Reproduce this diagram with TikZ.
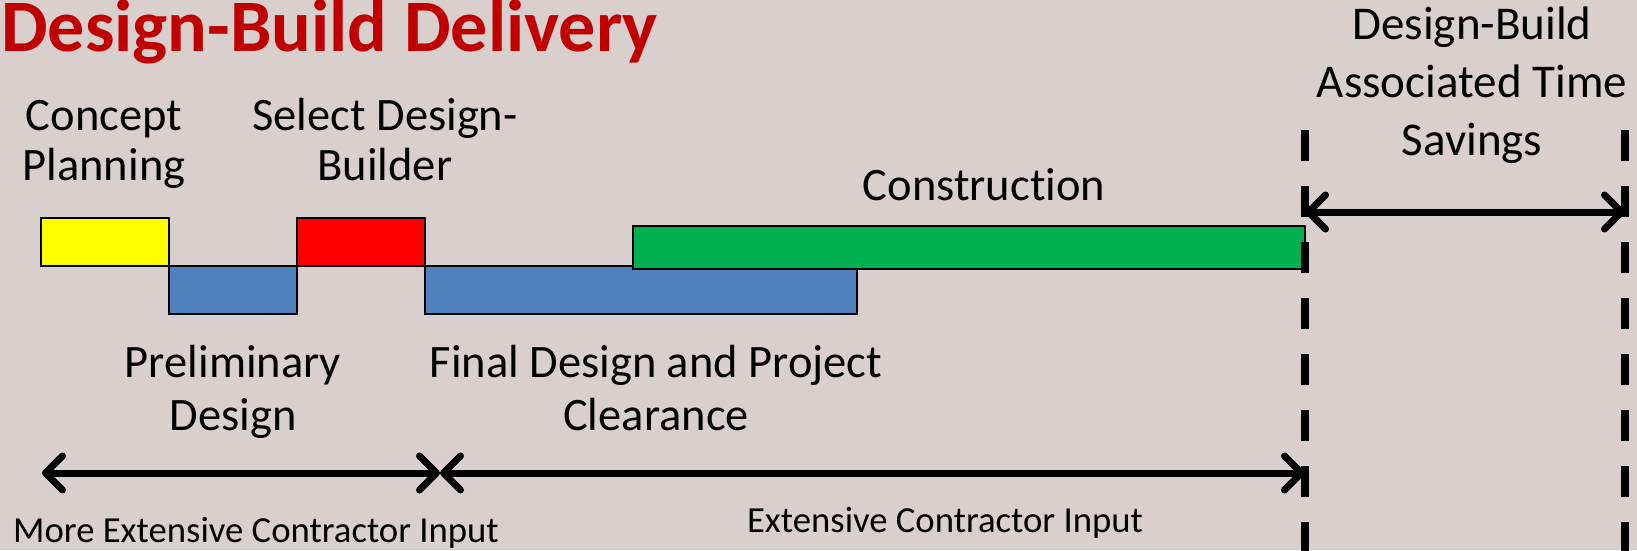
\documentclass[tikz,border=0pt]{standalone}
\usepackage{fontspec}
\setmainfont{Carlito}[Ligatures={NoCommon}]
\usetikzlibrary{arrows.meta}
\definecolor{bgc}{RGB}{217,207,205}
\definecolor{titlered}{RGB}{192,0,0}
\definecolor{cyel}{RGB}{255,255,0}
\definecolor{cblue}{RGB}{79,129,189}
\definecolor{cred}{RGB}{255,0,0}
\definecolor{cgreen}{RGB}{0,176,80}
\tikzset{
  bar/.style={draw=black, line width=2pt, anchor=north west, inner sep=0pt, outer sep=0pt},
  lbl/.style={anchor=base, inner sep=0pt, align=center, font=\fontsize{46.5}{50}\selectfont},
  small/.style={anchor=base, inner sep=0pt, font=\fontsize{36.7}{44}\selectfont},
  span/.style={line width=7pt, {Straight Barb[length=17pt,width=34pt,line cap=round,line join=round]}-{Straight Barb[length=17pt,width=34pt,line cap=round,line join=round]}},
  dline/.style={line width=7.5pt, dash pattern=on 31pt off 25pt}
}
\begin{document}
\begin{tikzpicture}[x=1pt,y=-1pt]
\fill[bgc] (0,0) rectangle (1637,550);
\useasboundingbox (0,0) rectangle (1637,550);
% title
\node[anchor=base west, inner sep=0pt, text height=48pt, text=titlered, font=\fontsize{74}{86}\selectfont\bfseries] (title) at (1,51) {Design-Build Delivery};
% bars
\node[bar, fill=cyel, minimum width=128pt, minimum height=48pt] (cp) at (41,218) {};
\node[bar, fill=cblue, minimum width=128pt, minimum height=48pt] (pd) at (169,266) {};
\node[bar, fill=cred, minimum width=128pt, minimum height=48pt] (sd) at (297,218) {};
\node[bar, fill=cblue, minimum width=432pt, minimum height=48pt] (fd) at (425,266) {};
\node[bar, fill=cgreen, minimum width=672pt, minimum height=43pt] (cn) at (633,226) {};
% labels (anchor=base gives the baseline of the last line)
\node[lbl] (lcp) at (104,180) {Concept\\Planning};
\node[lbl] (lsd) at (385,180) {Select Design-\\Builder};
\node[lbl] (lcn) at (984,200) {Construction};
\node[lbl, font=\fontsize{46.5}{53}\selectfont] (lpd) at (233,430) {Preliminary\\Design};
\node[lbl, font=\fontsize{46.5}{53}\selectfont] (lfd) at (656,430) {Final Design and Project\\Clearance};
\node[lbl, font=\fontsize{47}{58}\selectfont] (lts) at (1472,155) {Design-Build\\Associated Time\\Savings};
% dashed lines
\coordinate (d1t) at (1305,130); \coordinate (d1b) at (1305,560);
\coordinate (d2t) at (1625,130); \coordinate (d2b) at (1625,560);
\draw[dline] (d1t) -- (d1b);
\draw[dline] (d2t) -- (d2b);
% arrows
\coordinate (ta) at (1305,212); \coordinate (tb) at (1625,212);
\draw[span] (ta) -- (tb);
\coordinate (ba) at (42,473); \coordinate (bm) at (440,473); \coordinate (bb) at (1305,473);
\draw[span] (ba) -- (bm);
\draw[span] (bm) -- (bb);
% bottom labels
\node[small] (lmore) at (256,542) {More Extensive Contractor Input};
\node[small] (lext) at (945,532) {Extensive Contractor Input};
\end{tikzpicture}
\end{document}
